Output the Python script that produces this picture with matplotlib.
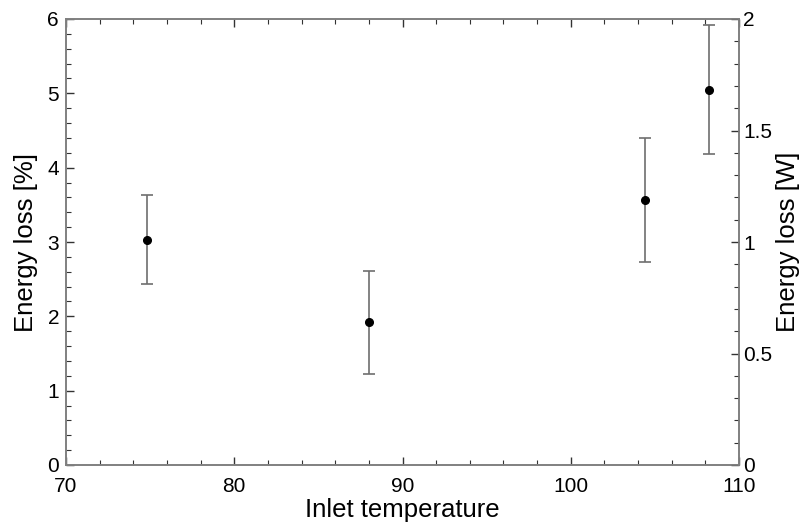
import matplotlib
matplotlib.use("Agg")
import matplotlib.pyplot as plt
from matplotlib.ticker import MultipleLocator, FuncFormatter

plt.rcParams['font.family'] = ['Liberation Sans', 'DejaVu Sans']

temps = [74.8, 88.0, 104.4, 108.2]
loss_pct = [3.03, 1.92, 3.56, 5.04]
err_low = [2.43, 1.22, 2.73, 4.18]
err_high = [3.63, 2.61, 4.40, 5.92]

x_ticks = [70, 80, 90, 100, 110]
left_ticks = [0, 1, 2, 3, 4, 5, 6]
right_ticks = [0, 0.5, 1, 1.5, 2]

fig = plt.figure(figsize=(8.03, 5.27), dpi=100)
ax = fig.add_axes([66/803, 1-465/527, (739-66)/803, (465-19)/527])

yerr = [[v - lo for v, lo in zip(loss_pct, err_low)],
        [hi - v for v, hi in zip(loss_pct, err_high)]]
ax.errorbar(temps, loss_pct, yerr=yerr, fmt='o', color='black', markersize=5.5,
            ecolor='#6e6e6e', elinewidth=1.2, capsize=4, capthick=1.2)

ax.set_xlim(70, 110)
ax.set_ylim(0, 6)
ax.set_xticks(x_ticks)
ax.set_yticks(left_ticks)
ax.xaxis.set_minor_locator(MultipleLocator(2))
ax.yaxis.set_minor_locator(MultipleLocator(0.2))

spine_color = '#808080'
for s in ax.spines.values():
    s.set_color(spine_color)
    s.set_linewidth(1.2)

ax.tick_params(axis='x', which='both', direction='in', top=True, bottom=True,
               color='#333333', labelsize=15, pad=9)
ax.tick_params(axis='y', which='both', direction='in', left=True, right=False,
               color='#333333', labelsize=15, pad=5)
ax.tick_params(which='major', length=6, width=1)
ax.tick_params(which='minor', length=3.5, width=0.8)

ax.set_xlabel('Inlet temperature', fontsize=18.5, labelpad=1)
ax.set_ylabel('Energy loss [%]', fontsize=18.5, labelpad=7)

ax2 = ax.twinx()
ax2.set_ylim(0, 2)
ax2.set_yticks(right_ticks)
ax2.yaxis.set_major_formatter(FuncFormatter(lambda v, p: ('%g' % v)))
ax2.yaxis.set_minor_locator(MultipleLocator(0.1))
for s in ax2.spines.values():
    s.set_color(spine_color)
    s.set_linewidth(1.2)
ax2.tick_params(axis='y', which='both', direction='in', color='#333333',
                labelsize=15, pad=3)
ax2.tick_params(which='major', length=6, width=1)
ax2.tick_params(which='minor', length=3.5, width=0.8)
ax2.set_ylabel('Energy loss [W]', fontsize=18.5, labelpad=3)

fig.savefig('out.png', dpi=100)
